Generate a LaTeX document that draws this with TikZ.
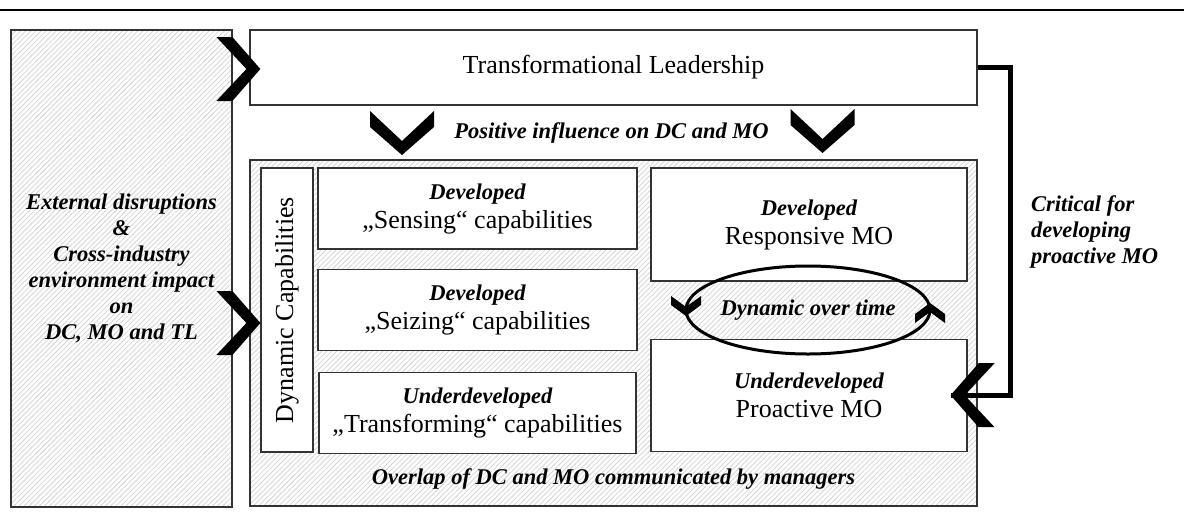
\documentclass[tikz,border=0pt]{standalone}
\usepackage{fontspec}
\setmainfont{Liberation Serif}
\usetikzlibrary{positioning,calc,patterns.meta}

\tikzset{
  box/.style={rectangle,draw=black!80,line width=1.2pt,fill=white,align=center,
    font=\fontsize{26}{29}\selectfont},
  hatched/.style={rectangle,draw=black!80,line width=1.2pt,
    pattern={Lines[angle=45,distance=3.6pt,line width=0.8pt]},pattern color=black!17},
  note/.style={align=center,inner sep=0pt,font=\fontsize{22.5}{26}\selectfont\bfseries\itshape},
  chevron/.pic={\fill (0,0) -- (-28,-32) -- (-44,-32) -- (-14,0) -- (-44,32) -- (-28,32) -- cycle;},
  barb/.pic={\fill (0,0) -- (-11,-15) -- (-20,-15) -- (-9,0) -- (-20,15) -- (-11,15) -- cycle;}
}
\newcommand{\lvl}[1]{{\fontsize{22.5}{26}\selectfont\bfseries\itshape #1}}

\begin{document}
\begin{tikzpicture}[x=1pt,y=-1pt]
  \useasboundingbox (0,0) rectangle (1184,520);
  \draw[line width=2pt] (0,10) -- (1184,10);

  % hatched backgrounds
  \node[hatched,minimum width=221pt,minimum height=477pt,note] (ext) at (121.5,268.5)
    {External disruptions\\ \&\\ Cross-industry\\ environment impact\\ on\\ DC, MO and TL};
  \node[hatched,minimum width=727pt,minimum height=346pt] (inner) at (613.5,333) {};
  \node[note] (overlap) at ($(inner.south)+(0,-28)$) {Overlap of DC and MO communicated by managers};

  \node[box,minimum width=727pt,minimum height=75pt] (tl) at (613.5,67.5) {Transformational Leadership};
  \node[note] (pos) at (611.5,133) {Positive influence on DC and MO};

  % dynamic capabilities
  \node[box,rotate=90,minimum width=284pt,minimum height=52pt] (dc) at (287,310) {Dynamic Capabilities};
  \node[box,minimum width=319pt,minimum height=81pt] (sense) at (477.5,208.5) {\lvl{Developed}\\„Sensing“ capabilities};
  \node[box,minimum width=319pt,minimum height=81pt,below=19pt of sense] (seize) {\lvl{Developed}\\„Seizing“ capabilities};
  \node[box,minimum width=317pt,minimum height=81pt,below=21pt of seize] (transf) {\lvl{Underdeveloped}\\„Transforming“ capabilities};

  % market orientation
  \node[box,minimum width=316pt,minimum height=113pt] (resp) at (809,224.5) {\lvl{Developed}\\Responsive MO};
  \node[box,minimum width=316pt,minimum height=112pt,below=57pt of resp] (proact) {\lvl{Underdeveloped}\\Proactive MO};

  \node[note] (dyn) at (808,310) {Dynamic over time};
  \draw[line width=3pt] (dyn) ellipse [x radius=122pt,y radius=44pt];
  \pic[rotate=-90] at ($(dyn)+(-122,6)$) {barb};
  \pic[rotate=90] at ($(dyn)+(122,-7)$) {barb};

  % TL to proactive MO
  \node[note,align=left,anchor=west] (crit) at (1031,232) {Critical for\\developing\\proactive MO};
  \coordinate (pin) at ($(proact.east)+(-17,0)$);
  \draw[line width=5pt] (tl.east) -- ++(33,0) |- (pin);
  \pic[rotate=180] at (pin) {chevron};

  % influence markers
  \pic at ($(tl.west)+(11,1.5)$) {chevron};
  \pic at ($(inner.west)+(11,-10)$) {chevron};
  \pic[rotate=-90] at ($(pos)+(-209.5,22)$) {chevron};
  \pic[rotate=-90] at ($(pos)+(211,20)$) {chevron};
\end{tikzpicture}
\end{document}
